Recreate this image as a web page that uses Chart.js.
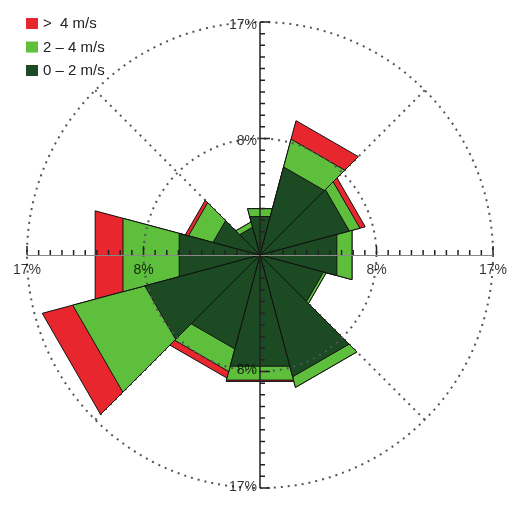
<!DOCTYPE html>
<html>
<head>
<meta charset="utf-8">
<script src="https://cdn.jsdelivr.net/npm/chart.js@4"></script>
<style>
  html, body { margin: 0; padding: 0; background: #fff; }
  #wrap { width: 525px; height: 511px; }
</style>
</head>
<body>
<div id="wrap"><canvas id="rose" width="525" height="511"></canvas></div>
<script>
// wind directions, 30 degree sectors starting at north, clockwise
const directions = ['N', '30°', '60°', 'E', '120°', '150°', 'S', '210°', '240°', 'W', '300°', '330°'];

// frequency (%) per speed class
const speedLow  = [2.9, 6.65, 6.75, 5.8, 4.8, 9.2, 8.4, 7.1, 8.7, 6.1, 3.55, 2.1];   // 0 - 2 m/s
const speedMid  = [0.6, 2.1, 0.8, 1.15, 0.2, 0.8, 1.05, 1.7, 5.45, 4.25, 1.85, 0.4]; // 2 - 4 m/s
const speedHigh = [0, 1.4, 0.4, 0, 0, 0, 0.1, 0.5, 2.3, 2.1, 0.25, 0];              // > 4 m/s

const speedLabels = ['>  4 m/s', '2 – 4 m/s', '0 – 2 m/s'];
const speedColors = ['#e8262d', '#5dbf3c', '#1c4a22'];

const axisMax = 17;
const ringValues = [8.5, 17];
const ringLabels = ['8%', '17%'];
const tickCount = 20;

// stacked totals, since polar area arcs just overlap
const cumLow = speedLow.slice();
const cumMid = speedLow.map((v, i) => v + speedMid[i]);
const cumHigh = cumMid.map((v, i) => v + speedHigh[i]);

const FONT = "'Liberation Sans', Arial, sans-serif";

const roseDecor = {
  id: 'roseDecor',
  beforeDatasetsDraw(chart) {
    const s = chart.scales.r;
    const ctx = chart.ctx;
    const R = s.getDistanceFromCenterForValue(axisMax);
    ctx.save();
    ctx.strokeStyle = '#555';
    ctx.lineWidth = 2;
    ctx.setLineDash([2, 5]);
    [45, 135, 225, 315].forEach((deg) => {
      const a = deg * Math.PI / 180;
      ctx.beginPath();
      ctx.moveTo(s.xCenter, s.yCenter);
      ctx.lineTo(s.xCenter + R * Math.sin(a), s.yCenter - R * Math.cos(a));
      ctx.stroke();
    });
    ctx.restore();
  },
  // wedges with a straight outer edge instead of the arc
  beforeDatasetDraw(chart, args) {
    const ctx = chart.ctx;
    ctx.save();
    args.meta.data.forEach((arc) => {
      const p = arc.getProps(['x', 'y', 'startAngle', 'endAngle', 'outerRadius'], true);
      if (!(p.outerRadius > 0)) return;
      ctx.beginPath();
      ctx.moveTo(p.x, p.y);
      ctx.lineTo(p.x + p.outerRadius * Math.cos(p.startAngle), p.y + p.outerRadius * Math.sin(p.startAngle));
      ctx.lineTo(p.x + p.outerRadius * Math.cos(p.endAngle), p.y + p.outerRadius * Math.sin(p.endAngle));
      ctx.closePath();
      ctx.fillStyle = arc.options.backgroundColor;
      ctx.fill();
      ctx.strokeStyle = arc.options.borderColor;
      ctx.lineWidth = arc.options.borderWidth;
      ctx.lineJoin = 'miter';
      ctx.stroke();
    });
    ctx.restore();
    return false;
  },
  afterDatasetsDraw(chart) {
    const s = chart.scales.r;
    const ctx = chart.ctx;
    const cx = s.xCenter, cy = s.yCenter;
    const R = s.getDistanceFromCenterForValue(axisMax);
    ctx.save();

    // dotted rings
    ctx.strokeStyle = '#555';
    ctx.lineWidth = 2;
    ctx.setLineDash([2, 5]);
    ringValues.forEach((v) => {
      ctx.beginPath();
      ctx.arc(cx, cy, s.getDistanceFromCenterForValue(v), 0, Math.PI * 2);
      ctx.stroke();
    });
    ctx.setLineDash([]);

    // horizontal axis
    ctx.strokeStyle = '#888';
    ctx.lineWidth = 1;
    ctx.beginPath();
    ctx.moveTo(cx - R, cy + 0.5);
    ctx.lineTo(cx + R, cy + 0.5);
    ctx.stroke();
    // vertical axis
    ctx.strokeStyle = '#222';
    ctx.lineWidth = 1.5;
    ctx.beginPath();
    ctx.moveTo(cx, cy - R);
    ctx.lineTo(cx, cy + R);
    ctx.stroke();

    // ticks
    ctx.strokeStyle = '#222';
    ctx.lineWidth = 1.5;
    for (let i = 1; i <= tickCount; i++) {
      const d = s.getDistanceFromCenterForValue(i * axisMax / tickCount);
      const major = i % (tickCount / 2) === 0;
      const hl = major ? 9 : 5;
      const vl = major ? 10 : 5;
      ctx.beginPath();
      ctx.moveTo(cx - d, cy); ctx.lineTo(cx - d, cy - hl);
      ctx.moveTo(cx + d, cy); ctx.lineTo(cx + d, cy - hl);
      ctx.moveTo(cx, cy - d); ctx.lineTo(cx + vl, cy - d);
      ctx.moveTo(cx, cy + d); ctx.lineTo(cx + vl, cy + d);
      ctx.stroke();
    }

    // ring labels
    ctx.fillStyle = 'rgba(0,0,0,0.8)';
    ctx.font = '14px ' + FONT;
    ctx.textBaseline = 'middle';
    ringValues.forEach((v, k) => {
      const d = s.getDistanceFromCenterForValue(v);
      ctx.textAlign = 'right';
      ctx.fillText(ringLabels[k], cx - 3, cy - d + 3);
      ctx.fillText(ringLabels[k], cx - 3, cy + d - 1);
      ctx.textAlign = 'center';
      ctx.fillText(ringLabels[k], cx - d, cy + 15);
      ctx.fillText(ringLabels[k], cx + d, cy + 15);
    });

    // legend
    ctx.font = '15px ' + FONT;
    ctx.textAlign = 'left';
    speedLabels.forEach((lab, k) => {
      const y = 23 + k * 23.5;
      ctx.fillStyle = speedColors[k];
      ctx.fillRect(26, y - 5, 12, 11);
      ctx.fillStyle = '#222';
      ctx.fillText(lab, 43, y + 1);
    });
    ctx.restore();
  }
};

new Chart(document.getElementById('rose').getContext('2d'), {
  type: 'polarArea',
  data: {
    labels: directions,
    datasets: [
      { label: speedLabels[2], data: cumLow, backgroundColor: speedColors[2], borderColor: '#111', borderWidth: 1 },
      { label: speedLabels[1], data: cumMid, backgroundColor: speedColors[1], borderColor: '#111', borderWidth: 1 },
      { label: speedLabels[0], data: cumHigh, backgroundColor: speedColors[0], borderColor: '#111', borderWidth: 1 },
    ],
  },
  options: {
    responsive: false,
    animation: false,
    layout: { padding: { left: 27, right: 32, top: 22, bottom: 23 } },
    plugins: {
      legend: { display: false },
      tooltip: { enabled: false },
    },
    scales: {
      r: {
        min: 0,
        max: axisMax,
        startAngle: -15,
        ticks: { display: false },
        grid: { display: false },
        angleLines: { display: false },
        pointLabels: { display: false },
      },
    },
  },
  plugins: [roseDecor],
});
</script>
</body>
</html>
